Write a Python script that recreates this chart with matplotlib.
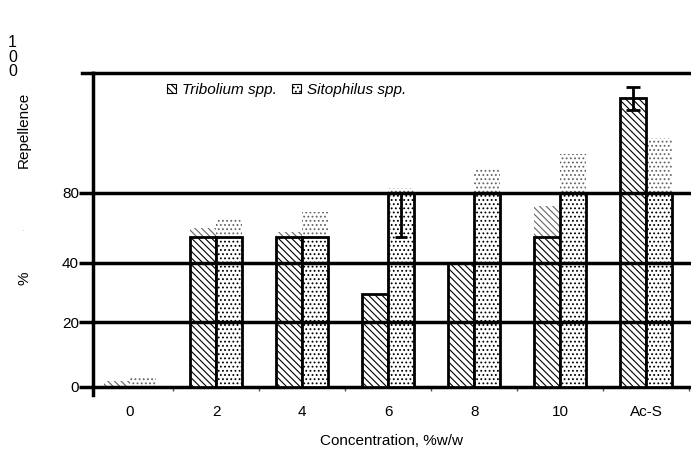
import matplotlib
matplotlib.use("Agg")
import matplotlib.pyplot as plt
from matplotlib.patches import Patch
import numpy as np

plt.rcParams['font.family'] = ['Liberation Sans', 'DejaVu Sans']
plt.rcParams['hatch.linewidth'] = 0.8

categories = ['0', '2', '4', '6', '8', '10', 'Ac-S']
# light (unframed) hatched bar heights
trib_ghost = [2, 50.6, 49.4, 29.6, 39.5, 57.6, 92]
sito_ghost = [3, 53.8, 55.7, 63.4, 69.7, 74.2, 79.3]
# framed bar heights (None = no frame)
trib_box = [None, 47.8, 47.8, 29.6, 39.5, 47.8, 92]
sito_box = [None, 47.8, 47.8, 61.8, 61.8, 61.8, 61.8]
# error bars: (category index, mean, lower err, upper err)
err_sito6 = (3, 61.8, 14.0, 0.0)
err_trib_acs = (6, 92.0, 3.7, 3.7)

ytick_pos = [0, 20.7, 39.5, 61.8]
ytick_lab = ['0', '20', '40', '80']

fig = plt.figure(figsize=(6.91, 4.53), dpi=100)
ax = fig.add_axes([93/691, 66/453, 598/691, 314/453])

x = np.arange(len(categories))
w = 0.3

# ghost bars
ax.bar(x - w, trib_ghost, w, align='edge', facecolor='white', edgecolor='#666666',
       linewidth=0, hatch='\\\\\\\\\\', zorder=2)
ax.bar(x, sito_ghost, w, align='edge', facecolor='white', edgecolor='#666666',
       linewidth=0, hatch='....', zorder=2)

# framed bars
for i in range(len(categories)):
    if trib_box[i] is not None:
        ax.bar(x[i] - w, trib_box[i], w, align='edge', facecolor='white', edgecolor='black',
               linewidth=2, hatch='\\\\\\\\\\', zorder=3)
    if sito_box[i] is not None:
        ax.bar(x[i], sito_box[i], w, align='edge', facecolor='white', edgecolor='black',
               linewidth=2, hatch='....', zorder=3)

# gridlines
for yv in ytick_pos[1:] + [100]:
    ax.axhline(yv, color='black', linewidth=2.5, zorder=4, clip_on=False)
ax.plot([-0.555, -0.43], [100, 100], color='black', linewidth=2.5, clip_on=False, zorder=4)

# error bars
i, m, lo, hi = err_sito6
ax.errorbar(x[i] + w/2, m, yerr=[[lo], [hi]], fmt='none', ecolor='black',
            elinewidth=2, capsize=4, capthick=2, zorder=5)
i, m, lo, hi = err_trib_acs
ax.errorbar(x[i] - w/2, m, yerr=[[lo], [hi]], fmt='none', ecolor='black',
            elinewidth=2, capsize=5, capthick=2, zorder=5)

ax.set_xlim(-0.43, 6.52)
ax.set_ylim(0, 100)

for s in ['top', 'right']:
    ax.spines[s].set_visible(False)
ax.spines['left'].set_linewidth(2.5)
ax.spines['bottom'].set_linewidth(2.5)
ax.spines['left'].set_bounds(-2.5, 100)

ax.set_yticks(ytick_pos)
ax.set_yticklabels(ytick_lab, fontsize=11)
ax.tick_params(axis='y', length=10, width=2.5, pad=0)
ax.set_xticks(x)
ax.set_xticklabels(categories, fontsize=11)
ax.tick_params(axis='x', length=0, pad=13)
ax.set_xticks(list(x[:-1] + 0.5) + [6.5], minor=True)
ax.tick_params(axis='x', which='minor', length=3, width=1, color='#555555')

ax.set_xlabel('Concentration, %w/w', fontsize=11, labelpad=11)

fig.text(8/691, 1 - 57/453, '1\n0\n0', fontsize=11.5, va='center', ha='left', linespacing=0.98)
fig.text(24/691, 1 - 130/453, 'Repellence', rotation=90, fontsize=11, va='center', ha='center')
fig.text(22/691, 1 - 232/453, '\u02d1', fontsize=6, va='center', ha='center', color='#777777')
fig.text(24/691, 1 - 278/453, '%', rotation=90, fontsize=11, va='center', ha='center')

handles = [Patch(facecolor='white', edgecolor='black', hatch='\\\\\\\\\\', linewidth=0.8),
           Patch(facecolor='white', edgecolor='black', hatch='....', linewidth=0.8)]
leg = ax.legend(handles, ['Tribolium spp.', 'Sitophilus spp.'], ncol=2, frameon=False,
                loc='center left', bbox_to_anchor=(0.1, 0.946), handlelength=0.6,
                handleheight=0.6, handletextpad=0.4, columnspacing=1.0,
                prop={'style': 'italic', 'size': 11})

fig.savefig('out.png', dpi=100)
